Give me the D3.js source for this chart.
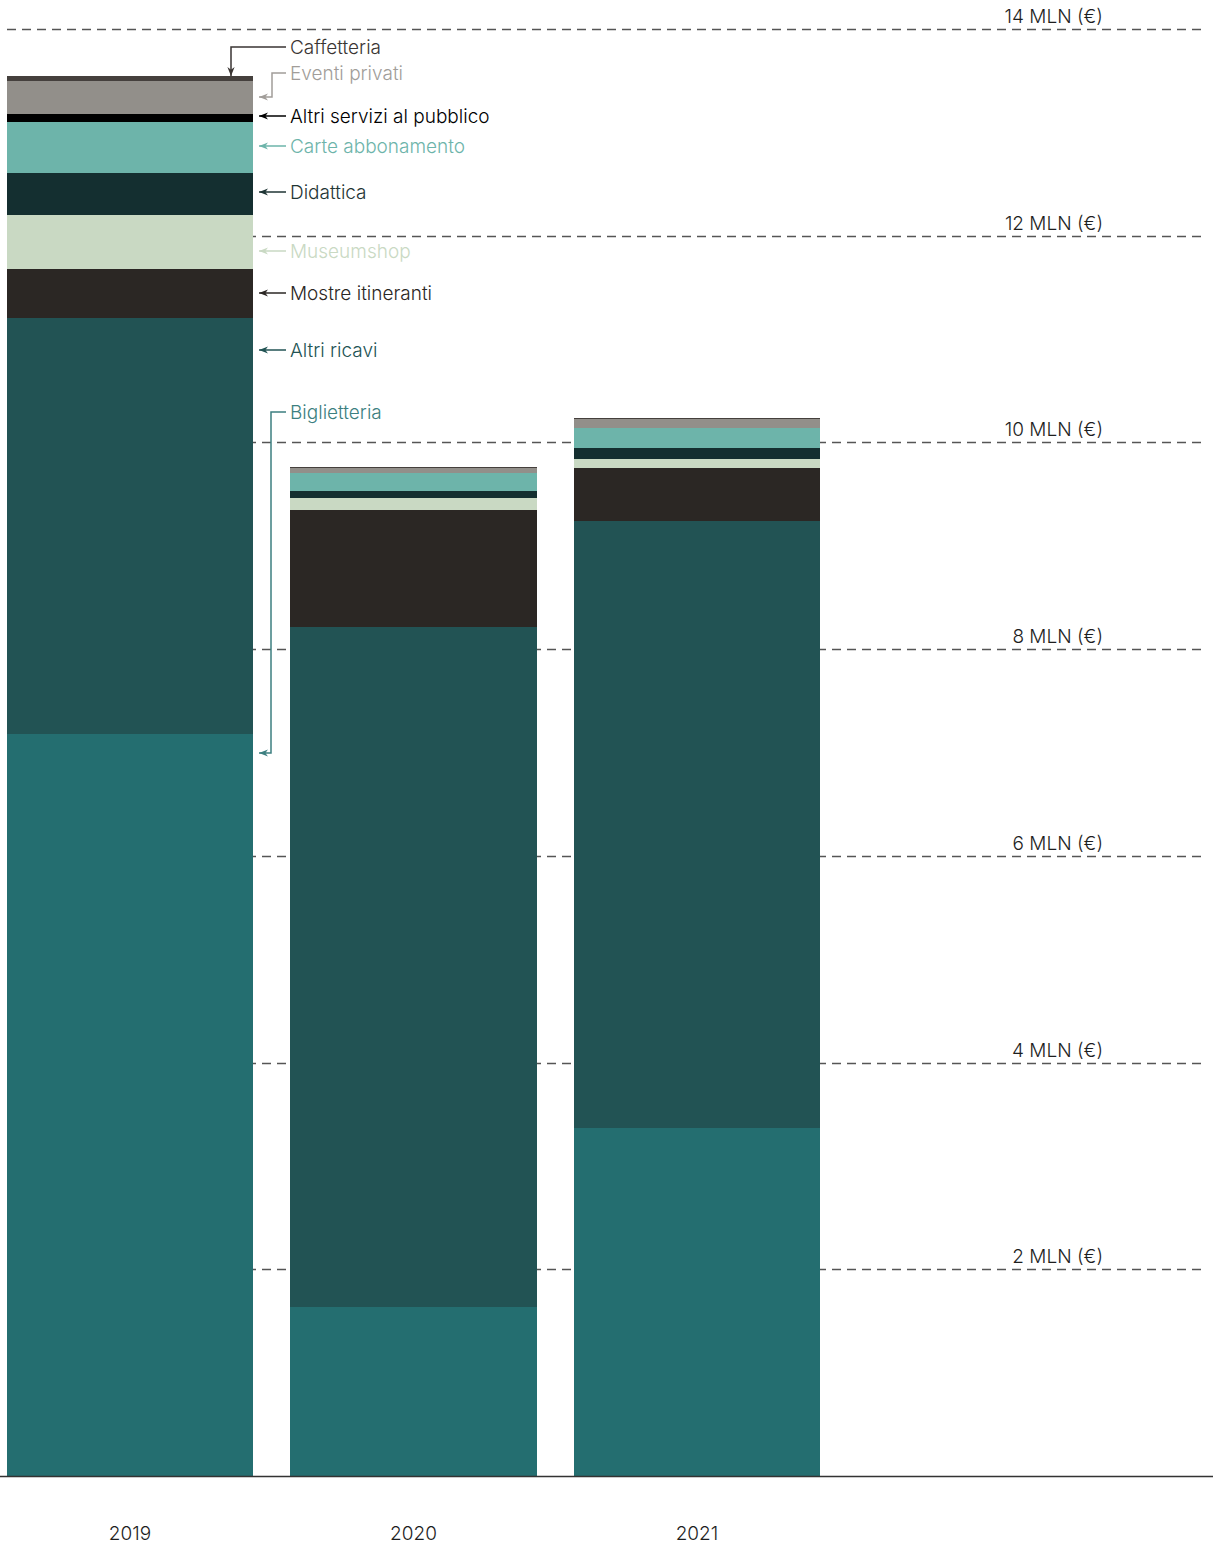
<!DOCTYPE html>
<html><head><meta charset="utf-8">
<script src="https://cdn.jsdelivr.net/npm/d3@7"></script>
<style>
html,body{margin:0;padding:0;background:#fff;}
svg{display:block;font-family:"Inter","Noto Sans",sans-serif;}
</style></head>
<body>
<svg id="chart" width="1213" height="1546"></svg>
<script>
const years = ["2019", "2020", "2021"];
const seriesNames = ["Biglietteria", "Altri ricavi", "Mostre itineranti", "Museumshop", "Didattica", "Carte abbonamento", "Altri servizi al pubblico", "Eventi privati", "Caffetteria"];
const biglietteria = [7.18, 1.635, 3.367];
const altriRicavi = [4.02, 6.58, 5.873];
const mostreItineranti = [0.48, 1.13, 0.513];
const museumshop = [0.52, 0.116, 0.087];
const didattica = [0.41, 0.068, 0.106];
const carteAbbonamento = [0.49, 0.174, 0.194];
const altriServizi = [0.075, 0.0, 0.0];
const eventiPrivati = [0.32, 0.048, 0.087];
const caffetteria = [0.05, 0.013, 0.01];
const yTicks = [2, 4, 6, 8, 10, 12, 14];
const tickFormat = v => v + " MLN (€)";

const colors = ["#246e70", "#225354", "#2b2724", "#c9d9c3", "#142f30", "#6db4aa", "#000000", "#928f8a", "#45403d"];
const labelColors = ["#3c7f80", "#225354", "#2b2724", "#c9d9c3", "#1f3535", "#6db4aa", "#000000", "#a19d99", "#3a3533"];

const seriesValues = [biglietteria, altriRicavi, mostreItineranti, museumshop, didattica, carteAbbonamento, altriServizi, eventiPrivati, caffetteria];
const table = years.map((y, i) => {
  const row = {year: y};
  seriesNames.forEach((s, k) => row[s] = seriesValues[k][i]);
  return row;
});

const svg = d3.select("#chart");
const x = d3.scaleBand().domain(years).range([7, 820]).paddingInner(0.132).paddingOuter(0);
const y = d3.scaleLinear().domain([0, 14]).range([1476, 29]);

// gridlines
const grid = svg.append("g");
grid.selectAll("line").data(yTicks).join("line")
  .attr("x1", 7).attr("x2", 1206)
  .attr("y1", d => Math.round(y(d)) + 0.5).attr("y2", d => Math.round(y(d)) + 0.5)
  .attr("stroke", "#555").attr("stroke-width", 1.3).attr("stroke-dasharray", "9,6");
grid.selectAll("text").data(yTicks).join("text")
  .attr("x", 1103).attr("y", d => y(d) - 6)
  .attr("text-anchor", "end").attr("font-size", 19).attr("font-weight", 300).attr("fill", "#1e1e1e")
  .text(tickFormat);

// bars
const stacked = d3.stack().keys(seriesNames)(table);
svg.append("g").attr("shape-rendering", "crispEdges").selectAll("g").data(stacked).join("g")
  .attr("fill", (d, i) => colors[i])
  .selectAll("rect").data(d => d).join("rect")
  .attr("x", d => x(d.data.year))
  .attr("width", x.bandwidth())
  .attr("y", d => y(d[1]))
  .attr("height", d => Math.max(0, y(d[0]) - y(d[1])));

// baseline axis
svg.append("line").attr("x1", 0).attr("x2", 1213).attr("y1", y(0) + 0.5).attr("y2", y(0) + 0.5)
  .attr("stroke", "#333").attr("stroke-width", 1.5);

// year labels
svg.append("g").selectAll("text").data(years).join("text")
  .attr("x", d => x(d) + x.bandwidth() / 2).attr("y", 1540)
  .attr("text-anchor", "middle").attr("font-size", 19).attr("font-weight", 300).attr("fill", "#1e1e1e")
  .text(d => d);

// annotations (legend with arrows) for 2019 bar
const bx = x("2019") + x.bandwidth();
const annot = [
  {k: 8, ly: 47, type: "down"},
  {k: 7, ly: 73, type: "elbow", ay: 97, cx: 272},
  {k: 6, ly: 116},
  {k: 5, ly: 146},
  {k: 4, ly: 192},
  {k: 3, ly: 251},
  {k: 2, ly: 293},
  {k: 1, ly: 350},
  {k: 0, ly: 412, type: "elbow", ay: 753, cx: 271}
];
const defs = svg.append("defs");
labelColors.forEach((c, i) => {
  defs.append("marker").attr("id", "ah" + i).attr("viewBox", "0 0 10 10")
    .attr("refX", 10).attr("refY", 5).attr("markerWidth", 9).attr("markerHeight", 9)
    .attr("markerUnits", "userSpaceOnUse").attr("orient", "auto")
    .append("path").attr("d", "M0,1 L10,5 L0,9 L3,5 Z").attr("fill", c);
});
const ag = svg.append("g");
const lx = 286;
annot.forEach(a => {
  const c = labelColors[a.k];
  let d;
  if (a.type === "down") {
    d = `M${lx},${a.ly} H231 V${y(d3.sum(seriesValues, s => s[0]))}`;
  } else if (a.type === "elbow") {
    d = `M${lx},${a.ly} H${a.cx} V${a.ay} H${bx + 6}`;
  } else {
    d = `M${lx},${a.ly} H${bx + 6}`;
  }
  ag.append("path").attr("d", d).attr("fill", "none").attr("stroke", c).attr("stroke-width", 1.5)
    .attr("marker-end", `url(#ah${a.k})`);
  ag.append("text").attr("x", lx + 4).attr("y", a.ly).attr("dy", "0.35em")
    .attr("font-size", 19).attr("font-weight", 300).attr("fill", c).text(seriesNames[a.k]);
});
</script>
</body></html>
